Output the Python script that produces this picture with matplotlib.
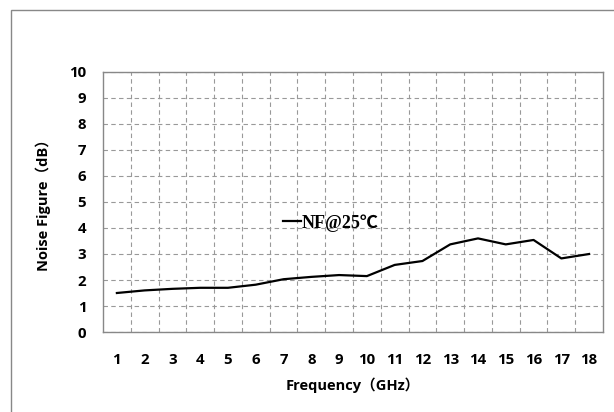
import matplotlib
matplotlib.use("Agg")
import matplotlib.pyplot as plt
from matplotlib.patches import Rectangle

freq = list(range(1, 19))
nf = [1.5, 1.6, 1.66, 1.7, 1.7, 1.82, 2.03, 2.12, 2.19, 2.15, 2.58, 2.73, 3.37, 3.6, 3.37, 3.54, 2.83, 3.0]
x_ticks = [str(f) for f in freq]
y_ticks = list(range(0, 11))

W, H = 614, 412
fig = plt.figure(figsize=(W / 100, H / 100), dpi=100)
fig.patch.set_facecolor("white")
fig.patches.append(Rectangle((11 / W, -0.05), 1.2, 1 - 10 / H + 0.05, transform=fig.transFigure,
                             fill=False, edgecolor="#888888", linewidth=1.0))

ax = fig.add_axes([103 / W, 1 - 332 / H, 500 / W, 260 / H])
pos = [i + 0.5 for i in range(len(freq))]
ax.plot(pos, nf, color="black", linewidth=1.6, label="NF@25℃")
ax.set_xlim(0, len(freq))
ax.set_ylim(0, 10)
ax.set_xticks(pos)
ax.set_xticklabels(x_ticks)
ax.set_xticks(range(1, len(freq)), minor=True)
ax.set_yticks(y_ticks)
ax.tick_params(axis="both", which="both", length=0)
ax.tick_params(axis="x", pad=15)
ax.tick_params(axis="y", pad=12)
ax.grid(True, which="minor", axis="x", linestyle=(0, (4, 3)), color="#999999", linewidth=0.8)
ax.grid(True, which="major", axis="y", linestyle=(0, (4, 3)), color="#999999", linewidth=0.8)
for s in ax.spines.values():
    s.set_color("#888888")
    s.set_linewidth(1.0)

fam = ["Open Sans", "Noto Sans CJK SC"]
for lab in ax.get_xticklabels() + ax.get_yticklabels():
    lab.set_family(fam)
    lab.set_fontweight("bold")
    lab.set_fontsize(10.8)

ax.set_xlabel("Frequency（GHz）", family=fam, fontweight="bold", fontsize=10.5, labelpad=8)
ax.set_ylabel("Noise Figure（dB）", family=fam, fontweight="bold", fontsize=10.5, labelpad=13)

leg = ax.legend(loc="center left", bbox_to_anchor=(0.345, 0.42), frameon=False,
                handlelength=1.0, handletextpad=0.05, borderaxespad=0,
                prop={"family": ["Liberation Serif", "Noto Sans CJK SC"], "weight": "bold", "size": 13})

fig.savefig("out.png", dpi=100)
